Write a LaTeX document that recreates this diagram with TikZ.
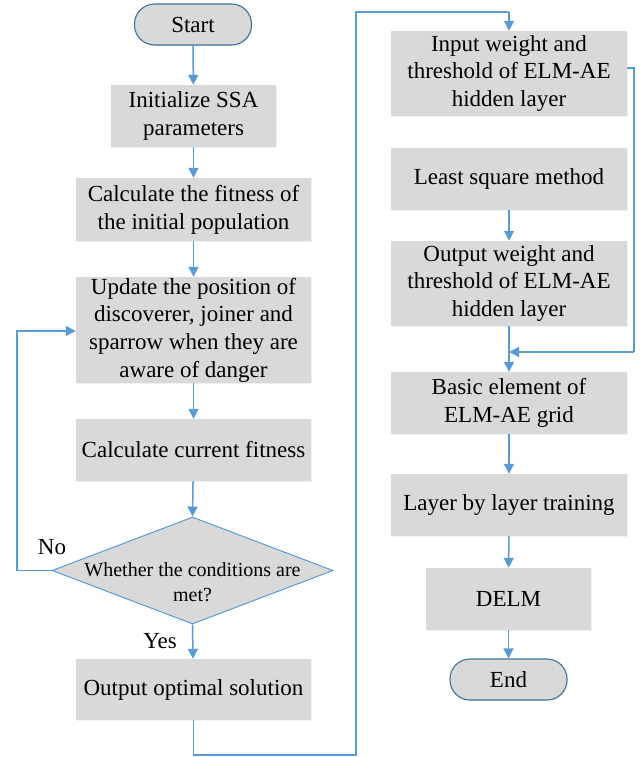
\documentclass[tikz,border=0pt]{standalone}
\usepackage{fontspec}
\setmainfont{LiberationSerif}[Extension=.ttf, UprightFont=*-Regular, BoldFont=*-Bold, ItalicFont=*-Italic, BoldItalicFont=*-BoldItalic]
\usetikzlibrary{shapes.geometric,arrows.meta,shadows}
\definecolor{boxgray}{HTML}{D9D9D9}
\definecolor{arrblue}{HTML}{5B9BD5}
\definecolor{termblue}{HTML}{41719C}
\begin{document}
\begin{tikzpicture}[x=1pt,y=-1pt,
  base/.style={fill=boxgray, inner sep=0pt, align=center,
    font=\fontsize{23}{27.7}\selectfont,
    drop shadow={shadow xshift=1.2pt, shadow yshift=-1.2pt, opacity=0.12, fill=arrblue}},
  proc/.style={base, rectangle, minimum width=#1, minimum height=62pt},
  proc/.default=235pt,
  term/.style={base, rectangle, rounded corners=20pt, draw=termblue, line width=1.1pt,
    minimum width=117pt, minimum height=41pt},
  dia/.style={diamond, fill=boxgray, draw=arrblue, line width=1pt, inner sep=0pt,
    minimum width=281pt, minimum height=107pt},
  lbl/.style={font=\fontsize{23}{27.7}\selectfont, inner sep=0pt},
  flow/.style={draw=arrblue, line width=1.5pt, -{Triangle[width=10pt,length=10pt]}},
  link/.style={draw=arrblue, line width=1.5pt}
]
\useasboundingbox (0,0) rectangle (642,757);

% left column
\node[term] (start) at (193,24.5) {Start};
\node[proc=165pt] (init) at (193.5,116) {Initialize SSA\\parameters};
\node[proc, minimum height=63pt] (calc) at (193.5,209.5) {Calculate the fitness of\\the initial population};
\node[proc, minimum height=106pt] (upd) at (193.5,330) {Update the position of\\discoverer, joiner and\\sparrow when they are\\aware of danger};
\node[proc] (cur) at (193.5,450) {Calculate current fitness};
\node[dia] (dec) at (192.5,570.5) {};
\node[lbl, align=center, font=\fontsize{20}{24.5}\selectfont] (dectext) at (192.5,582) {Whether the conditions are\\met?};
\node[proc, minimum height=61pt] (out) at (193.5,689.5) {Output optimal solution};
\node[lbl] (no) at (52,547) {No};
\node[lbl] (yes) at (160,641) {Yes};

% right column
\node[proc=236pt, minimum height=85pt] (inw) at (509,73.5) {Input weight and\\threshold of ELM-AE\\hidden layer};
\node[proc=236pt] (lsm) at (509,179) {Least square method};
\node[proc=236pt, minimum height=85pt] (ow) at (509,283.5) {Output weight and\\threshold of ELM-AE\\hidden layer};
\node[proc=236pt] (basic) at (509,403) {Basic element of\\ELM-AE grid};
\node[proc=236pt] (layer) at (509,505) {Layer by layer training};
\node[proc=165pt] (delm) at (508.5,599) {DELM};
\node[term] (end) at (508.5,679.5) {End};

% coordinates for routed lines
\coordinate (loopA) at (17,570.5);
\coordinate (loopB) at (17,331);
\coordinate (outA) at (193.5,755);
\coordinate (outB) at (356,755);
\coordinate (outC) at (356,12);
\coordinate (outD) at (509,12);
\coordinate (inwE) at (627,68);
\coordinate (inwF) at (634,68);
\coordinate (inwG) at (634,352);
\coordinate (join) at (509,352);

% connectors
\draw[flow] (start) -- (init);
\draw[flow] (init) -- (calc);
\draw[flow] (calc) -- (upd);
\draw[flow] (upd) -- (cur);
\draw[flow] (cur) -- (dec.north);
\draw[flow] (dec.south) -- (out);
\draw[flow] (dec.west) -- (loopA) -- (loopB) -- (upd.west |- loopB);
\draw[link] (out.south) -- (outA) -- (outB) -- (outC) -- (outD);
\draw[flow] (outD) -- (inw.north);
\draw[link] (inwE) -- (inwF) -- (inwG);
\draw[flow] (inwG) -- (join);
\draw[flow] (lsm) -- (ow);
\draw[flow] (ow) -- (basic);
\draw[flow] (basic) -- (layer);
\draw[flow] (layer) -- (delm);
\draw[flow] (delm) -- (end);
\end{tikzpicture}
\end{document}
